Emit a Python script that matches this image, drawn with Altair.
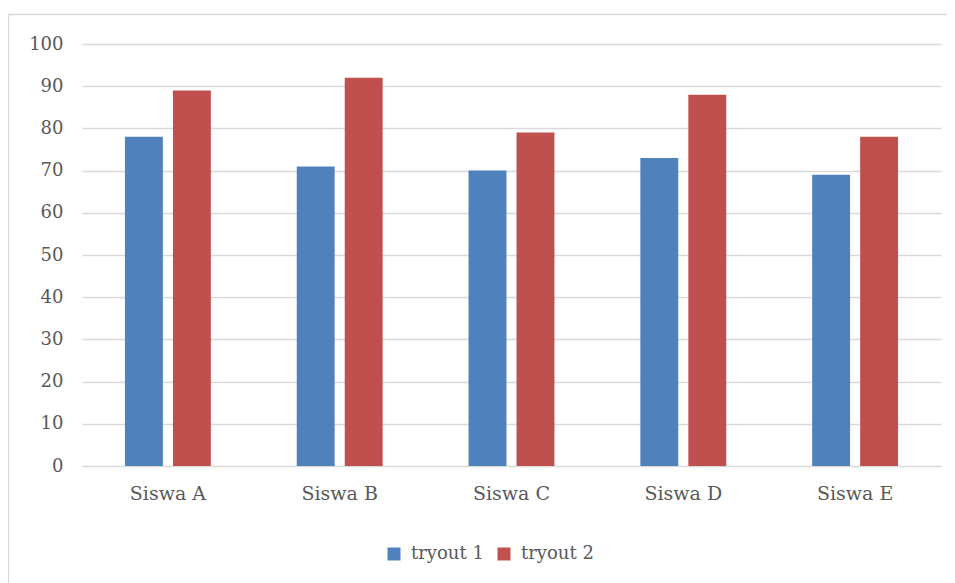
import altair as alt
import pandas as pd

categories = ["Siswa A", "Siswa B", "Siswa C", "Siswa D", "Siswa E"]
series = ["tryout 1", "tryout 2"]
tryout1 = [78, 71, 70, 73, 69]
tryout2 = [89, 92, 79, 88, 78]
y_ticks = list(range(0, 101, 10))
colors = ["#4F81BD", "#C0504D"]

rows = []
for c, a, b in zip(categories, tryout1, tryout2):
    rows.append({"siswa": c, "series": series[0], "value": a})
    rows.append({"siswa": c, "series": series[1], "value": b})
df = pd.DataFrame(rows)

font = "DejaVu Serif"
txt = "#595959"
W, H = 859, 422

bars = alt.Chart(df).mark_bar().encode(
    x=alt.X(
        "siswa:N", sort=categories,
        scale=alt.Scale(paddingInner=0.5, paddingOuter=0.25),
        axis=alt.Axis(title=None, labelAngle=0, domain=False, ticks=False,
                      labelFont=font, labelFontSize=19, labelColor=txt,
                      labelPadding=18),
    ),
    xOffset=alt.XOffset("series:N", sort=series,
                        scale=alt.Scale(paddingInner=0.21, paddingOuter=0)),
    y=alt.Y(
        "value:Q", scale=alt.Scale(domain=[0, 100]),
        axis=alt.Axis(title=None, values=y_ticks, domain=False, ticks=False,
                      grid=True, gridColor="#d9d9d9", gridWidth=1.3,
                      labelFont=font, labelFontSize=18, labelColor=txt,
                      labelPadding=19),
    ),
    color=alt.Color(
        "series:N",
        scale=alt.Scale(domain=series, range=colors),
        legend=alt.Legend(title=None, orient="none", direction="horizontal",
                          legendX=303, legendY=501, symbolType="square",
                          symbolSize=169, symbolStrokeWidth=0,
                          labelFont=font, labelFontSize=18, labelColor=txt,
                          labelOffset=8, columnPadding=11),
    ),
)

one = pd.DataFrame({"a": [0]})
frame_top = alt.Chart(one).mark_rule(color="#d9d9d9", strokeWidth=1.3).encode(
    x=alt.value(-73.5), x2=alt.value(W + 10), y=alt.value(-29.5),
)
frame_left = alt.Chart(one).mark_rule(color="#d9d9d9", strokeWidth=1.3).encode(
    x=alt.value(-73.5), y=alt.value(-29.5), y2=alt.value(H + 200),
)

chart = alt.layer(frame_top, frame_left, bars).properties(
    width=W, height=H,
    padding={"left": 74, "top": 36, "right": 6, "bottom": 117},
    autosize=alt.AutoSizeParams(type="none"),
).configure_view(stroke=None)

chart.save("out.html", embed_options={"renderer": "svg", "actions": False})
